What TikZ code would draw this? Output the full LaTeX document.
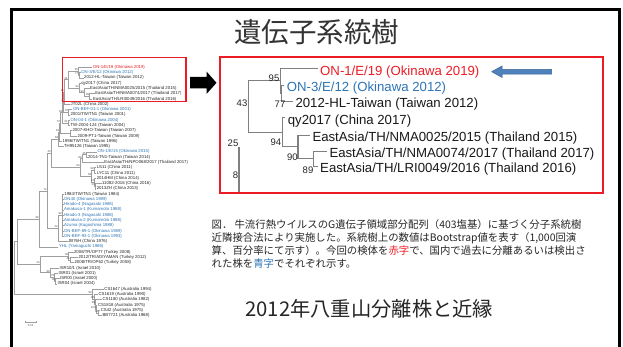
\documentclass[tikz,border=0pt]{standalone}
\usepackage{fontspec}
\setmainfont{Liberation Sans}
\newfontfamily\cjk{Noto Sans CJK JP}
\usetikzlibrary{calc}
\definecolor{frred}{RGB}{237,28,36}
\definecolor{lblue}{RGB}{46,117,182}
\definecolor{tgray}{RGB}{128,128,128}
\definecolor{arrblue}{RGB}{79,129,189}
\definecolor{arredge}{RGB}{60,100,150}
\definecolor{txtc}{RGB}{38,38,38}
\newcommand{\inode}[4]{\path let \p1=(#3), \p2=(#4) in (#2pt,{0.5*(\y1+\y2)}) coordinate (#1);}
\newcommand{\brn}[2]{\draw[tline] (#1) -| (#2);}
\newcommand{\bbr}[2]{\draw[bigline] (#1) -| (#2);}
\begin{document}
\begin{tikzpicture}[x=1pt,y=-1pt,
  leafk/.style={anchor=west, inner xsep=0.4pt, inner ysep=0pt, font=\fontsize{4.3}{5}\selectfont, text=black!85},
  leafb/.style={leafk, text=lblue},
  leafr/.style={leafk, text=frred},
  tline/.style={draw=gray!75, line width=0.4pt},
  bsl/.style={anchor=south east, inner sep=0.15pt, font=\fontsize{2.8}{3}\selectfont, text=black!70},
  bigleaf/.style={anchor=west, inner sep=0pt, font=\fontsize{13.2}{15}\selectfont, text=black!90},
  bigline/.style={draw=tgray, line width=1.1pt},
  bigbs/.style={anchor=east, inner sep=0pt, font=\fontsize{9.5}{11}\selectfont, text=black!85},
  captxt/.style={anchor=west, inner sep=0pt, font=\cjk\fontsize{10.4}{12}\selectfont, text=txtc}]
\useasboundingbox (0,0) rectangle (623,347);
\fill[white] (0,0) rectangle (623,347);
% outer frame
\draw[line width=3pt, line join=miter] (11.2,347) -- (11.2,9.8) -- (619.3,9.8) -- (619.3,347);
% title
\node[font=\cjk\fontsize{27.5}{30}\selectfont, text=black!80, inner sep=0pt] (title) at (316.7,31.7) {遺伝子系統樹};

% ---------------- small tree: leaves ----------------
\node[leafr] (L1) at (92.4,67.30) {ON-1/E/19 (Okinawa 2019)};
\node[leafb] (L2) at (80.8,72.58) {ON-3/E/12 (Okinawa 2012)};
\node[leafk] (L3) at (83.6,77.86) {2012-HL-Taiwan (Taiwan 2012)};
\node[leafk] (L4) at (80.8,83.14) {qy2017 (China 2017)};
\node[leafk] (L5) at (89.6,88.42) {EastAsia/TH/NMA0025/2015 (Thailand 2015)};
\node[leafk] (L6) at (94.7,93.70) {EastAsia/TH/NMA0074/2017 (Thailand 2017)};
\node[leafk] (L7) at (92.4,98.98) {EastAsia/TH/LRI0049/2016 (Thailand 2016)};
\node[leafk] (L8) at (70,104.26) {JT02L (China 2002)};
\node[leafb] (L9) at (72.4,109.54) {ON-BEF-01-1 (Okinawa 2001)};
\node[leafk] (L10) at (70,114.82) {2001/TW/TN1 (Taiwan 2001)};
\node[leafb] (L11) at (70,120.10) {ON-04-1 (Okinawa 2004)};
\node[leafk] (L12) at (70,125.38) {TW-2004-124 (Taiwan 2004)};
\node[leafk] (L13) at (72,130.66) {2007-KHO-Taiwan (Taiwan 2007)};
\node[leafk] (L14) at (77,135.94) {2009-PT1-Taiwan (Taiwan 2009)};
\node[leafk] (L15) at (62,141.22) {1996/TW/TN1 (Taiwan 1996)};
\node[leafk] (L16) at (63.5,146.50) {TH95126 (Taiwan 1995)};
\node[leafb] (L17) at (97,151.78) {ON-1/E/15 (Okinawa 2015)};
\node[leafk] (L18) at (87.5,157.06) {2014-TN1-Taiwan (Taiwan 2014)};
\node[leafk] (L19) at (103.8,162.34) {EastAsia/TH/NPO068/2017 (Thailand 2017)};
\node[leafk] (L20) at (96.2,167.62) {LS11 (China 2011)};
\node[leafk] (L21) at (96.2,172.90) {LYC11 (China 2011)};
\node[leafk] (L22) at (96.2,178.18) {2014HM (China 2014)};
\node[leafk] (L23) at (101.5,183.46) {11082-2016 (China 2016)};
\node[leafk] (L24) at (96.2,188.74) {2013ZH (China 2013)};
\node[leafk] (L25) at (63.8,194.02) {1984/TW/TN1 (Taiwan 1984)};
\node[leafb] (L26) at (63.5,199.30) {ON40 (Okinawa 1989)};
\node[leafb] (L27) at (63.5,204.58) {Hirado-4 (Nagasaki 1988)};
\node[leafb] (L28) at (63.5,209.86) {Amakusa-1 (Kumamoto 1988)};
\node[leafb] (L29) at (63.5,215.14) {Hirado-3 (Nagasaki 1988)};
\node[leafb] (L30) at (63.5,220.42) {Amakusa-2 (Kumamoto 1988)};
\node[leafb] (L31) at (63.5,225.70) {Azuma (Kagoshima 1988)};
\node[leafb] (L32) at (63.5,230.98) {ON-BEF-89-1 (Okinawa 1989)};
\node[leafb] (L33) at (63.5,236.26) {ON-BEF-93-1 (Okinawa 1993)};
\node[leafk] (L34) at (67.7,241.54) {JB76H (China 1976)};
\node[leafb] (L35) at (58.4,246.82) {YHL (Yamaguchi 1966)};
\node[leafk] (L36) at (73.5,252.10) {2008/TR/OP77 (Turkey 2008)};
\node[leafk] (L37) at (78,257.38) {2012/TR/ADIYAMAN (Turkey 2012)};
\node[leafk] (L38) at (74,262.66) {2008/TR/OP62 (Turkey 2008)};
\node[leafk] (L39) at (59,267.94) {ISR10/1 (Israel 2010)};
\node[leafk] (L40) at (58,273.22) {ISR01 (Israel 2001)};
\node[leafk] (L41) at (59.5,278.50) {ISR00 (Israel 2000)};
\node[leafk] (L42) at (57,283.78) {ISR04 (Israel 2004)};
\node[leafk] (L43) at (103.8,289.06) {CS1647 (Australia 1994)};
\node[leafk] (L44) at (98,294.34) {CS1619 (Australia 1990)};
\node[leafk] (L45) at (102,299.62) {CS1180 (Australia 1982)};
\node[leafk] (L46) at (97.4,304.90) {CS1818 (Australia 1975)};
\node[leafk] (L47) at (100.2,310.18) {CS42 (Australia 1975)};
\node[leafk] (L48) at (102,315.46) {BB7721 (Australia 1968)};

% ---------------- small tree: internal nodes ----------------
\inode{n77}{78.7}{L2}{L3}
\inode{n95}{78.3}{L1}{n77}
\inode{n89}{89.5}{L6}{L7}
\inode{n90}{84.2}{L5}{n89}
\inode{n94}{79.0}{L4}{n90}
\inode{n43}{67.8}{n95}{n94}
\inode{nA}{64.3}{n43}{L8}
\inode{nC}{68.5}{L9}{L10}
\inode{nB}{63.6}{nA}{nC}
\inode{nE}{68.0}{L11}{L12}
\inode{nD}{62.5}{nB}{nE}
\inode{nG}{70.0}{L13}{L14}
\inode{nF}{60.5}{nD}{nG}
\inode{nH}{59.5}{nF}{L15}
\inode{nI}{58.5}{nH}{L16}
\inode{nJ}{86}{L17}{L18}
\inode{nK}{82}{nJ}{L19}
\inode{nL}{94}{L20}{L21}
\inode{nM}{95.2}{L23}{L24}
\inode{nN}{94.5}{L22}{nM}
\inode{nO}{91.5}{nL}{nN}
\inode{nP}{80}{nK}{nO}
\inode{nQ}{51}{nI}{nP}
\inode{nR}{62}{L25}{L33}
\inode{nU}{58}{nR}{L34}
\inode{nS}{47}{nQ}{nU}
\inode{nV}{39}{nS}{L35}
\inode{nT1}{70}{L37}{L38}
\inode{nT}{68.5}{L36}{nT1}
\inode{nI2}{55.5}{L41}{L42}
\inode{nI1}{54.5}{L40}{nI2}
\inode{nI0}{50}{L39}{nI1}
\inode{nME}{40}{nT}{nI0}
\inode{nEA}{17}{nV}{nME}
\inode{nA2}{98.5}{L47}{L48}
\inode{nA1}{96}{L46}{nA2}
\inode{nA3}{95.3}{L45}{nA1}
\inode{nA4}{94.5}{L44}{nA3}
\inode{nA5}{92}{L43}{nA4}
\inode{root}{14}{nEA}{nA5}

% ---------------- small tree: branches ----------------
\brn{L2.west}{n77}\brn{L3.west}{n77}
\brn{L1.west}{n95}\brn{n77}{n95}
\brn{L6.west}{n89}\brn{L7.west}{n89}
\brn{L5.west}{n90}\brn{n89}{n90}
\brn{L4.west}{n94}\brn{n90}{n94}
\brn{n95}{n43}\brn{n94}{n43}
\brn{n43}{nA}\brn{L8.west}{nA}
\brn{L9.west}{nC}\brn{L10.west}{nC}
\brn{nA}{nB}\brn{nC}{nB}
\brn{L11.west}{nE}\brn{L12.west}{nE}
\brn{nB}{nD}\brn{nE}{nD}
\brn{L13.west}{nG}\brn{L14.west}{nG}
\brn{nD}{nF}\brn{nG}{nF}
\brn{nF}{nH}\brn{L15.west}{nH}
\brn{nH}{nI}\brn{L16.west}{nI}
\brn{L17.west}{nJ}\brn{L18.west}{nJ}
\brn{nJ}{nK}\brn{L19.west}{nK}
\brn{L20.west}{nL}\brn{L21.west}{nL}
\brn{L23.west}{nM}\brn{L24.west}{nM}
\brn{L22.west}{nN}\brn{nM}{nN}
\brn{nL}{nO}\brn{nN}{nO}
\brn{nK}{nP}\brn{nO}{nP}
\brn{nI}{nQ}\brn{nP}{nQ}
\foreach \k in {25,...,33}{\brn{L\k.west}{nR}}
\brn{nR}{nU}\brn{L34.west}{nU}
\brn{nQ}{nS}\brn{nU}{nS}
\brn{nS}{nV}\brn{L35.west}{nV}
\brn{L37.west}{nT1}\brn{L38.west}{nT1}
\brn{L36.west}{nT}\brn{nT1}{nT}
\brn{L41.west}{nI2}\brn{L42.west}{nI2}
\brn{L40.west}{nI1}\brn{nI2}{nI1}
\brn{L39.west}{nI0}\brn{nI1}{nI0}
\brn{nT}{nME}\brn{nI0}{nME}
\brn{nV}{nEA}\brn{nME}{nEA}
\brn{L47.west}{nA2}\brn{L48.west}{nA2}
\brn{L46.west}{nA1}\brn{nA2}{nA1}
\brn{L45.west}{nA3}\brn{nA1}{nA3}
\brn{L44.west}{nA4}\brn{nA3}{nA4}
\brn{L43.west}{nA5}\brn{nA4}{nA5}
\brn{nEA}{root}\brn{nA5}{root}

% ---------------- small tree: bootstrap values ----------------
\node[bsl] at (n95) {95}; \node[bsl] at (n77) {77}; \node[bsl] at (n43) {43};
\node[bsl] at (n94) {94}; \node[bsl] at (n90) {90}; \node[bsl] at (n89) {89};
\node[bsl] at (nA) {25}; \node[bsl] at (nB) {8}; \node[bsl] at (nC) {97};
\node[bsl] at (nD) {64}; \node[bsl] at (nE) {61}; \node[bsl] at (nF) {57};
\node[bsl] at (nH) {18}; \node[bsl] at (nI) {63}; \node[bsl] at (nJ) {26};
\node[bsl] at (nK) {80}; \node[bsl] at (nL) {99}; \node[bsl] at (nM) {20};
\node[bsl] at (nN) {16}; \node[bsl] at (nO) {99}; \node[bsl] at (nP) {84};
\node[bsl] at (nQ) {43}; \node[bsl] at (nR) {99}; \node[bsl] at (nU) {22};
\node[bsl] at (nS) {72}; \node[bsl] at (nV) {96}; \node[bsl] at (nT) {99};
\node[bsl] at (nT1) {45}; \node[bsl] at (nI0) {99}; \node[bsl] at (nI1) {78};
\node[bsl] at (nI2) {86}; \node[bsl] at (nME) {44}; \node[bsl] at (nA5) {99};
\node[bsl] at (nA4) {96}; \node[bsl] at (nA3) {99}; \node[bsl] at (nA1) {100};
\node[bsl] at (nA2) {62};

% scale bar
\coordinate (sb1) at (24.7,322); \coordinate (sb2) at (36.6,322);
\draw[tline] (sb1) -- (sb2);
\draw[tline] ($(sb1)+(0,-1.2)$) -- ($(sb1)+(0,1.2)$);
\draw[tline] ($(sb2)+(0,-1.2)$) -- ($(sb2)+(0,1.2)$);
\node[font=\fontsize{2.8}{3}\selectfont, text=black!70, inner sep=0pt] (sbl) at (30.6,325.6) {0.01};

% small red box
\draw[frred, line width=1.5pt] (62.5,57.3) rectangle (186,101.7);

% black arrow
\fill[black] (190,77) -- (206.5,77) -- (206.5,71.5) -- (216.5,82.8) -- (206.5,94) -- (206.5,88.5) -- (190,88.5) -- cycle;

% big red box
\draw[frred, line width=2pt] (219.7,57) rectangle (602.8,193.3);

% ---------------- big tree ----------------
\node[bigleaf, text=frred] (B1) at (320,71.7) {ON-1/E/19 (Okinawa 2019)};
\node[bigleaf, text=lblue] (B2) at (286.7,88.3) {ON-3/E/12 (Okinawa 2012)};
\node[bigleaf] (B3) at (295.3,104.3) {2012-HL-Taiwan (Taiwan 2012)};
\node[bigleaf] (B4) at (287.7,120.7) {qy2017 (China 2017)};
\node[bigleaf] (B5) at (312.3,138.3) {EastAsia/TH/NMA0025/2015 (Thailand 2015)};
\node[bigleaf] (B6) at (329.3,154.3) {EastAsia/TH/NMA0074/2017 (Thailand 2017)};
\node[bigleaf] (B7) at (320,169.3) {EastAsia/TH/LRI0049/2016 (Thailand 2016)};
\foreach \k in {1,...,7}{\coordinate (t\k) at ($(B\k.west)+(-2.5,-3.2)$);}
\inode{m77}{281.5}{t2}{t3}
\inode{m95}{280.3}{t1}{m77}
\inode{m89}{313.7}{t6}{t7}
\inode{m90}{298}{t5}{m89}
\inode{m94}{282.3}{t4}{m90}
\inode{m43}{248.7}{m95}{m94}
\bbr{t2}{m77}\bbr{t3}{m77}
\bbr{t1}{m95}\bbr{m77}{m95}
\bbr{t6}{m89}\bbr{t7}{m89}
\bbr{t5}{m90}\bbr{m89}{m90}
\bbr{t4}{m94}\bbr{m90}{m94}
\bbr{m95}{m43}\bbr{m94}{m43}
\coordinate (m25a) at (239,147); \coordinate (m25b) at (239,192);
\draw[bigline] (m25a) -- (m25b);
\node[bigbs] at (279.5,78.5) {95};
\node[bigbs] at (285.5,104) {77};
\node[bigbs] at (247.5,103) {43};
\node[bigbs] at (281.3,142) {94};
\node[bigbs] at (297.8,157.5) {90};
\node[bigbs] at (313.5,170.3) {89};
\node[bigbs] at (238.5,143.5) {25};
\node[bigbs] at (238.3,175.5) {8};

% blue arrow
\filldraw[fill=arrblue, draw=arredge, line width=0.5pt] (491.7,71.7) -- (502,66) -- (502,69.3) -- (551.7,69.3) -- (551.7,74.1) -- (502,74.1) -- (502,77.4) -- cycle;

% caption
\node[captxt] (c1) at (211.5,224.5) {図．\hspace{0.2em}牛流行熱ウイルスのG遺伝子領域部分配列（403塩基）に基づく分子系統樹};
\node[captxt] (c2) at (211.5,237.8) {近隣接合法により実施した。系統樹上の数値はBootstrap値を表す（1,000回演};
\node[captxt] (c3) at (211.5,251.0) {算、百分率にて示す）。今回の検体を{\color{frred}赤字}で、国内で過去に分離あるいは検出さ};
\node[captxt] (c4) at (211.5,264.0) {れた株を{\color{lblue}青字}でそれぞれ示す。};

% subtitle
\node[anchor=west, inner sep=0pt, font=\cjk\fontsize{20.3}{24}\selectfont, text=black!85] (sub) at (245,308.3) {2012年八重山分離株と近縁};
\end{tikzpicture}
\end{document}
